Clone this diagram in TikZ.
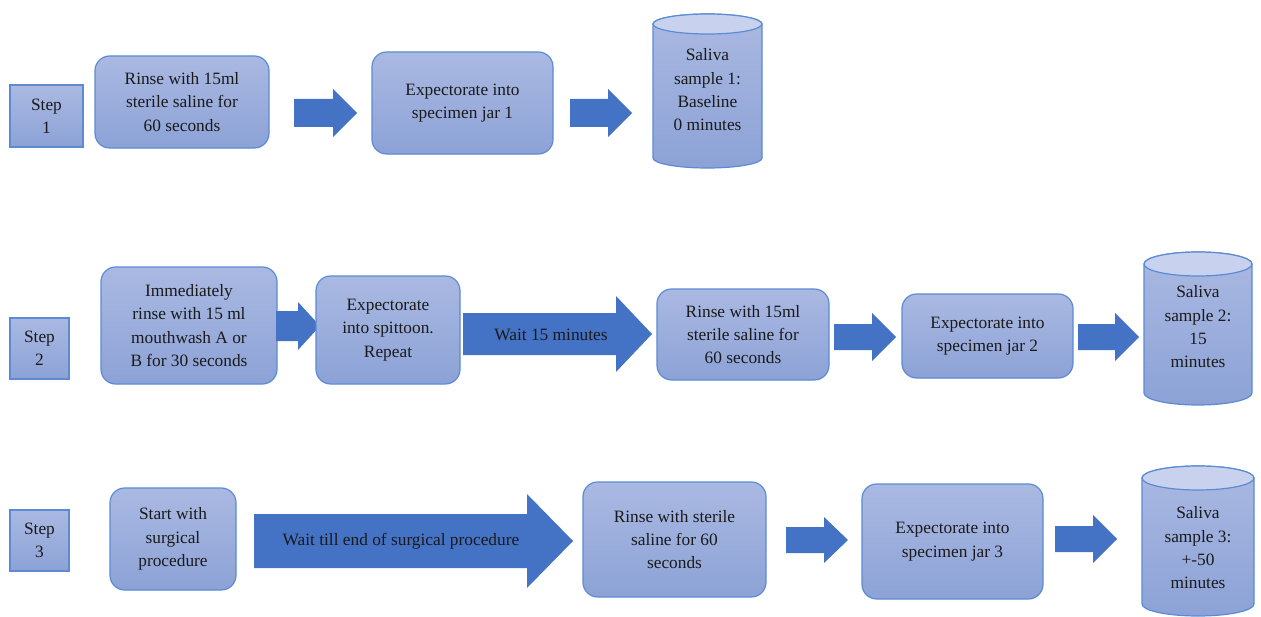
\documentclass[tikz,border=0pt]{standalone}
\usepackage{fontspec}
\setmainfont{Liberation Serif}
\definecolor{boxtop}{HTML}{AAB9E2}
\definecolor{boxbot}{HTML}{8CA2D6}
\definecolor{boxline}{HTML}{5B8BD3}
\definecolor{arrowfill}{HTML}{4472C4}
\definecolor{cyltop}{HTML}{C8D2EE}
\definecolor{txt}{HTML}{1A1A1A}
\tikzset{
  boxbase/.style={draw=boxline, line width=0.9pt, top color=boxtop, bottom color=boxbot, inner sep=0pt, outer sep=0pt, align=center, text=txt, font=\fontsize{13}{17.5}\selectfont},
  roundbox/.style={boxbase, rounded corners=11pt},
  stepbox/.style={boxbase},
  blockarrow/.style={fill=arrowfill, draw=none},
  arrowtext/.style={text=txt, font=\fontsize{13}{17.5}\selectfont, inner sep=0pt},
  cyltext/.style={text=txt, align=center, font=\fontsize{13}{17.5}\selectfont, inner sep=0pt},
}
% box: style, name, x1, y1, x2, y2, text
\newcommand\mybox[7]{\node[#1, minimum width={(#5-#3)*0.75pt}, minimum height={(#6-#4)*0.75pt}] (#2) at ({(#3+#5)/2},{(#4+#6)/2}) {#7};}
% block arrow: x1, x2, yc, shaft half, head half, head length
\newcommand\blockarr[6]{\fill[blockarrow] (#1,#3-#4) -- (#2-#6,#3-#4) -- (#2-#6,#3-#5) -- (#2,#3) -- (#2-#6,#3+#5) -- (#2-#6,#3+#4) -- (#1,#3+#4) -- cycle;}
% cylinder: name, x1, x2, ytop, ybot, ry, text y, text
\newcommand\mycyl[8]{%
  \path[draw=boxline, line width=0.9pt, top color=boxtop, bottom color=boxbot]
    (#2,#4+#6) -- (#2,#5-#6) arc[start angle=180, end angle=360, x radius={(#3-#2)/2*0.75pt}, y radius=#6*0.75pt] -- (#3,#4+#6) arc[start angle=0, end angle=180, x radius={(#3-#2)/2*0.75pt}, y radius=#6*0.75pt] -- cycle;
  \path[draw=boxline, line width=0.9pt, fill=cyltop] ({(#2+#3)/2},#4+#6) ellipse[x radius={(#3-#2)/2*0.75pt}, y radius=#6*0.75pt];
  \node[cyltext] (#1) at ({(#2+#3)/2},#7) {#8};}
\begin{document}
\begin{tikzpicture}[x=0.75pt,y=-0.75pt]
\fill[white] (0,0) rectangle (1261,617);
\useasboundingbox (0,0) rectangle (1261,617);
% Row 1
\mybox{stepbox}{s1}{10}{85}{83}{147}{Step\\1}
\mybox{roundbox}{r1a}{95}{56}{269}{148}{Rinse with 15ml\\sterile saline for\\60 seconds}
\blockarr{294}{357}{113}{14}{24}{24}
\mybox{roundbox}{r1b}{372}{52}{553}{154}{Expectorate into\\specimen jar 1}
\blockarr{570}{632}{113}{14}{24}{24}
\mycyl{c1}{653}{762}{14}{168}{10}{90}{Saliva\\sample 1:\\Baseline\\0 minutes}
% Row 2
\mybox{stepbox}{s2}{10}{318}{69}{379}{Step\\2}
\mybox{roundbox}{r2a}{101}{267}{277}{384}{Immediately\\rinse with 15 ml\\mouthwash A or\\B for 30 seconds}
\blockarr{276}{320}{326}{15}{24}{22}
\mybox{roundbox}{r2b}{316}{276}{460}{384}{Expectorate\\into spittoon.\\Repeat}
\blockarr{463}{652}{334}{21}{38}{36}
\node[arrowtext] (w1) at (551,335) {Wait 15 minutes};
\mybox{roundbox}{r2c}{657}{289}{829}{380}{Rinse with 15ml\\sterile saline for\\60 seconds}
\blockarr{834}{896}{337}{13}{24}{24}
\mybox{roundbox}{r2d}{902}{294}{1073}{378}{Expectorate into\\specimen jar 2}
\blockarr{1078}{1139}{337}{13}{24}{24}
\mycyl{c2}{1144}{1252}{252}{405}{12}{327}{Saliva\\sample 2:\\15\\minutes}
% Row 3
\mybox{stepbox}{s3}{10}{510}{69}{571}{Step\\3}
\mybox{roundbox}{r3a}{110}{488}{236}{590}{Start with\\surgical\\procedure}
\blockarr{254}{573}{541}{27}{47}{46}
\node[arrowtext] (w2) at (401,541) {Wait till end of surgical procedure};
\mybox{roundbox}{r3b}{583}{482}{766}{597}{Rinse with sterile\\saline for 60\\seconds}
\blockarr{786}{848}{540}{13}{23}{24}
\mybox{roundbox}{r3c}{862}{484}{1043}{599}{Expectorate into\\specimen jar 3}
\blockarr{1055}{1117}{539}{13}{24}{24}
\mycyl{c3}{1142}{1254}{466}{616}{12}{548}{Saliva\\sample 3:\\+-50\\minutes}
\end{tikzpicture}
\end{document}
